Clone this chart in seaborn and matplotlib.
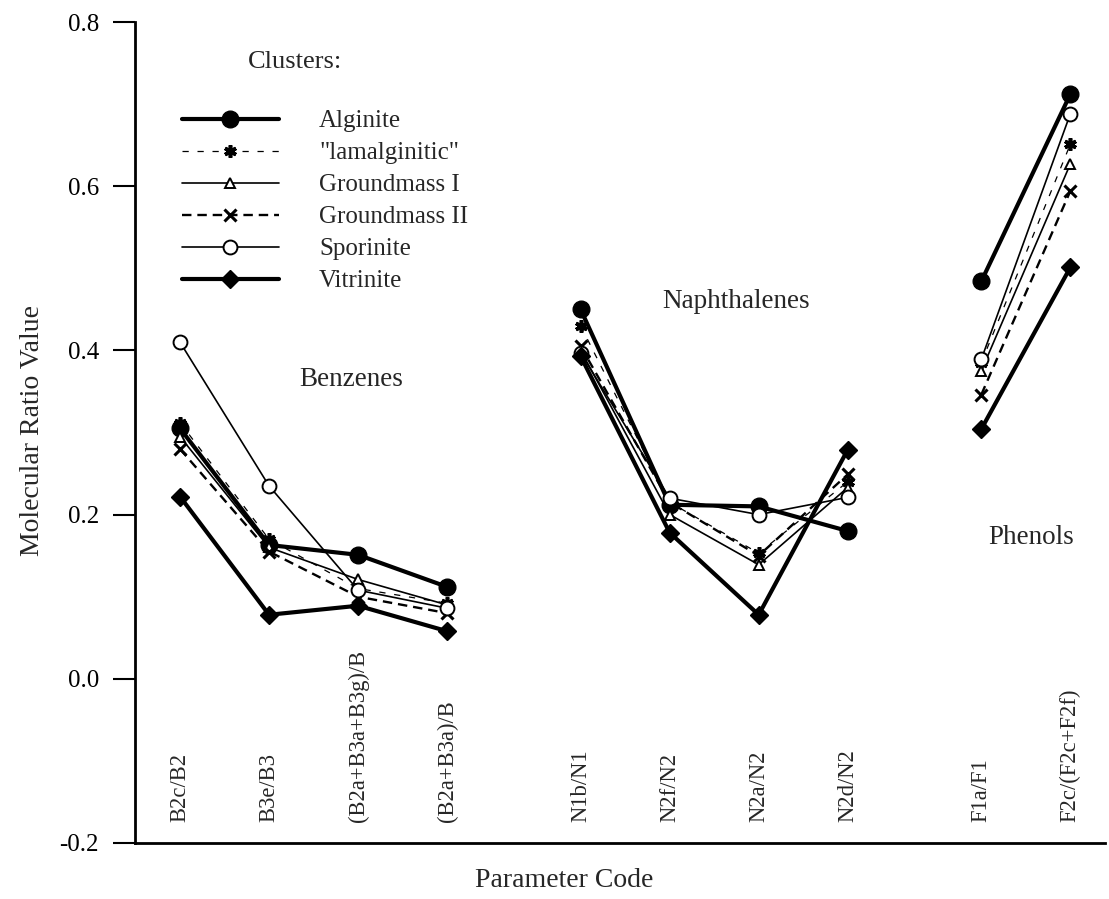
import numpy as np
import pandas as pd
import matplotlib
matplotlib.use("Agg")
import matplotlib.pyplot as plt
import seaborn as sns
from matplotlib.lines import Line2D

sns.set_style("white")
plt.rcParams['font.family'] = ['Liberation Serif', 'DejaVu Serif']

# ---------------- data ----------------
groups = ["Benzenes", "Naphthalenes", "Phenols"]
benz_labels = ["B2c/B2", "B3e/B3", "(B2a+B3a+B3g)/B", "(B2a+B3a)/B"]
naph_labels = ["N1b/N1", "N2f/N2", "N2a/N2", "N2d/N2"]
phen_labels = ["F1a/F1", "F2c/(F2c+F2f)"]
benz_pos = [0, 1, 2, 3]
naph_pos = [4.5, 5.5, 6.5, 7.5]
phen_pos = [9, 10]

clusters = ["Alginite", "\"lamalginitic\"", "Groundmass I", "Groundmass II", "Sporinite", "Vitrinite"]

alginite_b = [0.305, 0.163, 0.151, 0.112]
alginite_n = [0.450, 0.212, 0.210, 0.180]
alginite_f = [0.484, 0.712]

lamalg_b = [0.312, 0.170, 0.110, 0.092]
lamalg_n = [0.430, 0.215, 0.153, 0.240]
lamalg_f = [0.385, 0.651]

gm1_b = [0.295, 0.160, 0.121, 0.090]
gm1_n = [0.400, 0.200, 0.139, 0.233]
gm1_f = [0.375, 0.627]

gm2_b = [0.280, 0.155, 0.100, 0.080]
gm2_n = [0.405, 0.215, 0.150, 0.249]
gm2_f = [0.346, 0.594]

spor_b = [0.410, 0.235, 0.108, 0.086]
spor_n = [0.397, 0.220, 0.200, 0.221]
spor_f = [0.389, 0.688]

vitr_b = [0.222, 0.078, 0.089, 0.058]
vitr_n = [0.393, 0.178, 0.078, 0.279]
vitr_f = [0.304, 0.501]

series = {
    clusters[0]: (alginite_b, alginite_n, alginite_f),
    clusters[1]: (lamalg_b, lamalg_n, lamalg_f),
    clusters[2]: (gm1_b, gm1_n, gm1_f),
    clusters[3]: (gm2_b, gm2_n, gm2_f),
    clusters[4]: (spor_b, spor_n, spor_f),
    clusters[5]: (vitr_b, vitr_n, vitr_f),
}

styles = {
    clusters[0]: dict(lw=3.0, ls='-', marker='o', ms=12, mfc='black', mew=1.0),
    clusters[1]: dict(lw=0.9, ls=(0, (5, 7)), marker=(6, 2, 0), ms=9, mfc='black', mew=2.6),
    clusters[2]: dict(lw=1.2, ls='-', marker='^', ms=7, mfc='white', mew=1.4),
    clusters[3]: dict(lw=1.7, ls=(0, (4, 2.5)), marker='x', ms=8, mfc='black', mew=2.2),
    clusters[4]: dict(lw=1.2, ls='-', marker='o', ms=10, mfc='white', mew=1.4),
    clusters[5]: dict(lw=3.0, ls='-', marker='D', ms=9, mfc='black', mew=1.0),
}

positions = (benz_pos, naph_pos, phen_pos)
all_labels = benz_labels + naph_labels + phen_labels
all_pos = benz_pos + naph_pos + phen_pos

# ---------------- figure ----------------
fig = plt.figure(figsize=(11.09, 8.99), dpi=100)
ax = fig.add_axes([0.1217, 0.0623, 0.8747, 0.9132])

for name in clusters:
    st = styles[name]
    for gi, (vals, pos) in enumerate(zip(series[name], positions)):
        df = pd.DataFrame({"x": pos, "y": vals})
        sns.lineplot(data=df, x="x", y="y", ax=ax, sort=False, color="black",
                     linewidth=st['lw'], linestyle=st['ls'], marker=st['marker'],
                     markersize=st['ms'], markerfacecolor=st['mfc'],
                     markeredgecolor='black', markeredgewidth=st['mew'],
                     legend=False)

ax.set_xlim(-0.506, 10.39)
ax.set_ylim(-0.2, 0.8)
ax.set_yticks([-0.2, 0.0, 0.2, 0.4, 0.6, 0.8])
ax.set_yticklabels(["-0.2", "0.0", "0.2", "0.4", "0.6", "0.8"])
ax.set_xticks([])
ax.tick_params(axis='y', direction='out', length=16, width=1.5, pad=10,
               labelsize=18, colors='black', left=True)
for s in ['top', 'right']:
    ax.spines[s].set_visible(False)
for s in ['left', 'bottom']:
    ax.spines[s].set_linewidth(2.0)
    ax.spines[s].set_color('black')

# parameter code labels inside the axes
for p, lab in zip(all_pos, all_labels):
    ax.text(p, -0.174, lab, rotation=90, ha='center', va='bottom', fontsize=16.3)

# group labels
ax.text(1.92, 0.365, groups[0], ha='center', va='center', fontsize=19.5)
ax.text(6.25, 0.459, groups[1], ha='center', va='center', fontsize=19.5)
ax.text(9.56, 0.172, groups[2], ha='center', va='center', fontsize=19.5)

ax.set_ylabel("Molecular Ratio Value", fontsize=20)
ax.set_xlabel("Parameter Code", fontsize=20)
ax.yaxis.set_label_coords(-0.093, 0.503)
ax.xaxis.set_label_coords(0.442, -0.03)

# legend
ax.text(0.1165, 0.951, "Clusters:", transform=ax.transAxes, ha='left', va='center', fontsize=19)
handles = []
for name in clusters:
    st = styles[name]
    handles.append(Line2D([], [], color='black', lw=st['lw'], ls=st['ls'], marker=st['marker'],
                          markersize=st['ms'], markerfacecolor=st['mfc'],
                          markeredgecolor='black', markeredgewidth=st['mew']))
ax.legend(handles, clusters, loc='upper left', bbox_to_anchor=(0.048, 0.893),
          frameon=False, fontsize=18, handlelength=3.9, handletextpad=1.6,
          labelspacing=0.38, borderpad=0, borderaxespad=0)

fig.savefig("out.png", dpi=100, facecolor='white')
